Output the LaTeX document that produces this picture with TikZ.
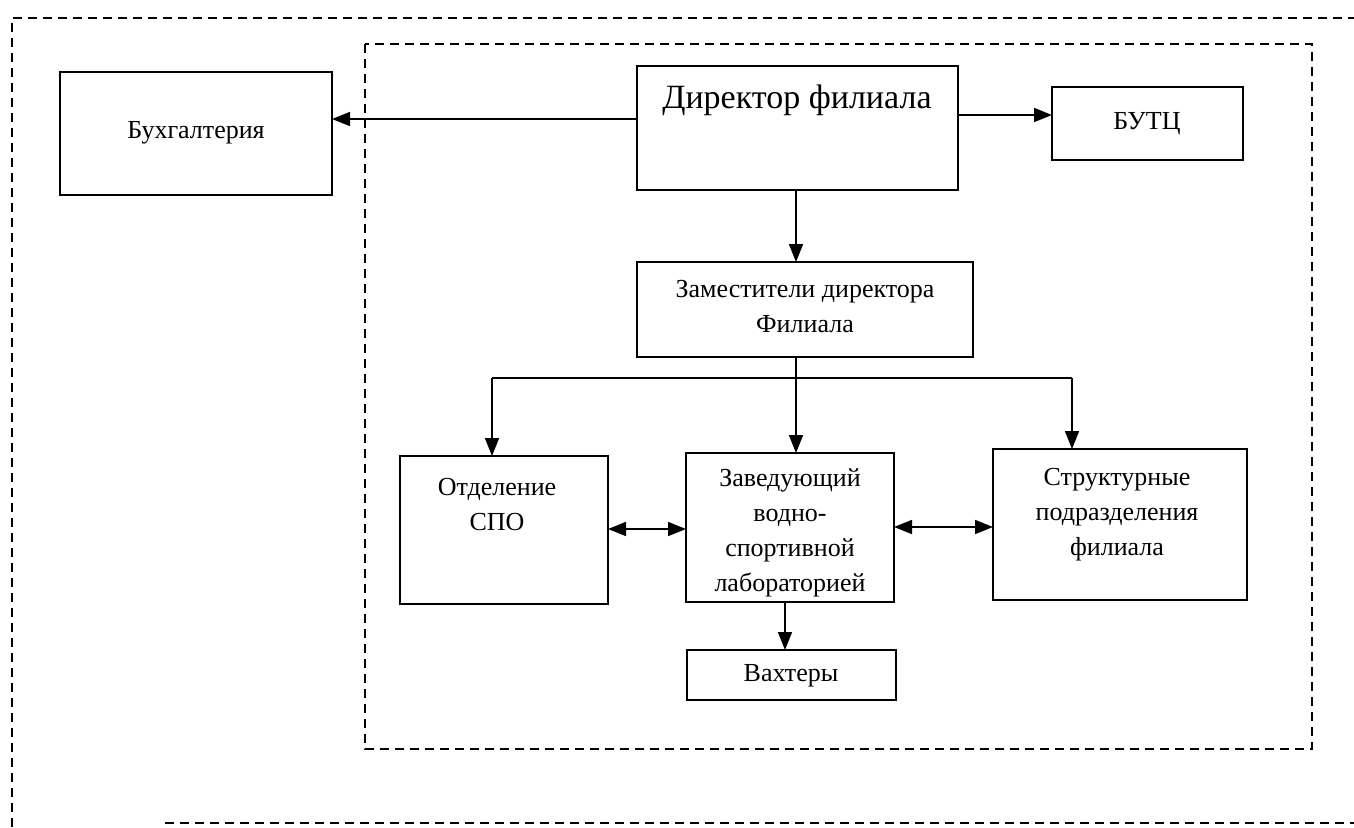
\documentclass[tikz,border=0pt]{standalone}
\usepackage{fontspec}
\setmainfont{Liberation Serif}
\usetikzlibrary{arrows.meta,calc}
\begin{document}
\begin{tikzpicture}[x=1pt,y=-1pt,
  box/.style={draw,line width=1.8pt,inner sep=0pt,outer sep=0pt,anchor=north west},
  lbl/.style={font=\fontsize{26}{35}\selectfont,align=center,inner sep=0pt},
  biglbl/.style={font=\fontsize{34}{40}\selectfont,align=center,inner sep=0pt},
  conn/.style={line width=1.6pt,-{Triangle[length=18pt,width=14pt]}},
  line/.style={line width=1.6pt},
  both/.style={line width=1.6pt,{Triangle[length=18pt,width=14pt]}-{Triangle[length=18pt,width=14pt]}},
  frame/.style={line width=1.4pt,dash pattern=on 9pt off 6pt}]
\useasboundingbox (0,0) rectangle (1354,827);

% frames
\draw[frame] (12,827) -- (12,18) -- (1354,18);
\draw[frame] (165,823) -- (1354,823);
\draw[frame] (365,44) rectangle (1312,749);

% boxes
\node[box,minimum width=272pt,minimum height=123pt] (buh) at (60,72) {};
\node[box,minimum width=321pt,minimum height=124pt] (dir) at (637,66) {};
\node[box,minimum width=191pt,minimum height=73pt] (butc) at (1052,87) {};
\node[box,minimum width=336pt,minimum height=95pt] (zam) at (637,262) {};
\node[box,minimum width=208pt,minimum height=148pt] (spo) at (400,456) {};
\node[box,minimum width=208pt,minimum height=149pt] (zav) at (686,453) {};
\node[box,minimum width=254pt,minimum height=151pt] (str) at (993,449) {};
\node[box,minimum width=209pt,minimum height=50pt] (vah) at (687,650) {};

% texts
\node[lbl] (tbuh) at (196,133) {Бухгалтерия};
\node[biglbl] (tdir) at (797,100) {Директор филиала};
\node[lbl] (tbutc) at (1147,124) {БУТЦ};
\node[lbl] (tzam) at (805,307) {Заместители директора\\Филиала};
\node[lbl] (tspo) at (497,505) {Отделение\\СПО};
\node[lbl] (tzav) at (790,533) {Заведующий\\водно-\\спортивной\\лабораторией};
\node[lbl] (tstr) at (1117,515) {Структурные\\подразделения\\филиала};
\node[lbl] (tvah) at (791,676) {Вахтеры};

% connectors
\coordinate (h1) at (0,119);
\draw[conn] (dir.west |- h1) -- (buh.east |- h1);
\coordinate (h2) at (0,115);
\draw[conn] (dir.east |- h2) -- (butc.west |- h2);
\coordinate (vx) at (796,0);
\draw[conn] (dir.south -| vx) -- (zam.north -| vx);
\coordinate (bus) at (796,378);
\coordinate (busL) at (492,378);
\coordinate (busR) at (1072,378);
\draw[line] (zam.south -| vx) -- (bus);
\draw[line] (busL) -- (busR);
\draw[conn] (busL) -- (spo.north -| busL);
\draw[conn] (bus) -- (zav.north -| bus);
\draw[conn] (busR) -- (str.north -| busR);
\coordinate (m1) at (650,529);
\draw[both] (spo.east |- m1) -- (zav.west |- m1);
\coordinate (m2) at (940,527);
\draw[both] (zav.east |- m2) -- (str.west |- m2);
\coordinate (m3) at (785,0);
\draw[conn] (zav.south -| m3) -- (vah.north -| m3);
\end{tikzpicture}
\end{document}
